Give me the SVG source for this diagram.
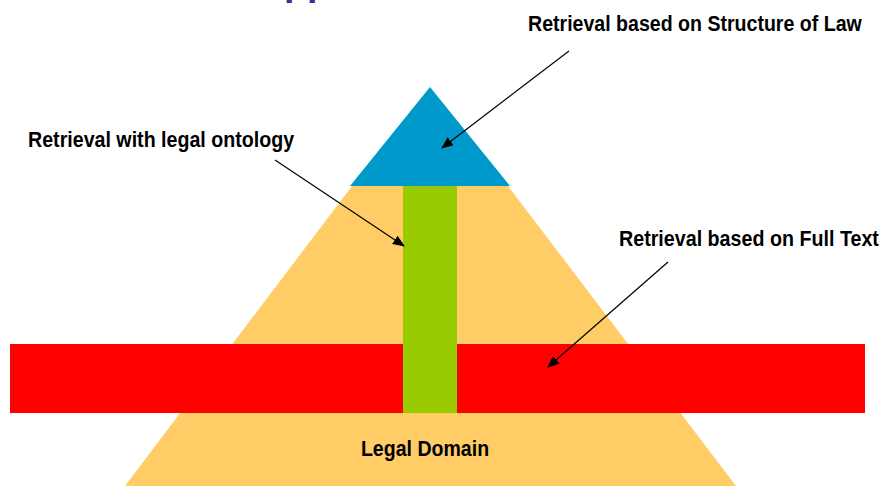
<svg xmlns="http://www.w3.org/2000/svg" width="884" height="486" viewBox="0 0 884 486">
<style>
.lbl{font-family:"Liberation Sans",Arial,sans-serif;font-weight:bold;font-size:22px;fill:#000}
.con{stroke:#000;stroke-width:1.2;fill:none;marker-end:url(#ah)}
</style>
<defs>
<marker id="ah" viewBox="0 0 12 10" refX="11" refY="5" markerWidth="12" markerHeight="10" markerUnits="userSpaceOnUse" orient="auto">
<path d="M0,0 L12,5 L0,10 Z" fill="#000"/>
</marker>
</defs>
<rect width="884" height="486" fill="#fff"/>
<text x="284" y="-4" font-family="Liberation Sans,Arial,sans-serif" font-weight="bold" font-size="32" fill="#333399" textLength="46" lengthAdjust="spacingAndGlyphs">pp</text>
<g id="legal-domain">
<polygon points="352,186 508,186 736,486 125,486" fill="#ffcc66"/>
<text class="lbl" transform="translate(425,456) scale(0.89,1)" text-anchor="middle" textLength="144" lengthAdjust="spacingAndGlyphs">Legal Domain</text>
</g>
<g id="full-text">
<rect x="10" y="344" width="855" height="69" fill="#ff0000"/>
</g>
<g id="ontology">
<rect x="403" y="186" width="54" height="227" fill="#99cc00"/>
</g>
<g id="structure">
<polygon points="430,87 510,186 350,186" fill="#0099cc"/>
</g>
<g id="label-structure">
<text class="lbl" transform="translate(528,31) scale(0.89,1)" textLength="375" lengthAdjust="spacingAndGlyphs">Retrieval based on Structure of Law</text>
</g>
<g id="label-ontology">
<text class="lbl" transform="translate(28,147) scale(0.89,1)" textLength="299" lengthAdjust="spacingAndGlyphs">Retrieval with legal ontology</text>
</g>
<g id="label-fulltext">
<text class="lbl" transform="translate(619,246) scale(0.89,1)" textLength="292" lengthAdjust="spacingAndGlyphs">Retrieval based on Full Text</text>
</g>
<g id="connectors">
<line class="con" x1="569" y1="51" x2="442" y2="148"/>
<line class="con" x1="275" y1="160" x2="404" y2="246"/>
<line class="con" x1="668" y1="262" x2="548" y2="367"/>
</g>
</svg>
